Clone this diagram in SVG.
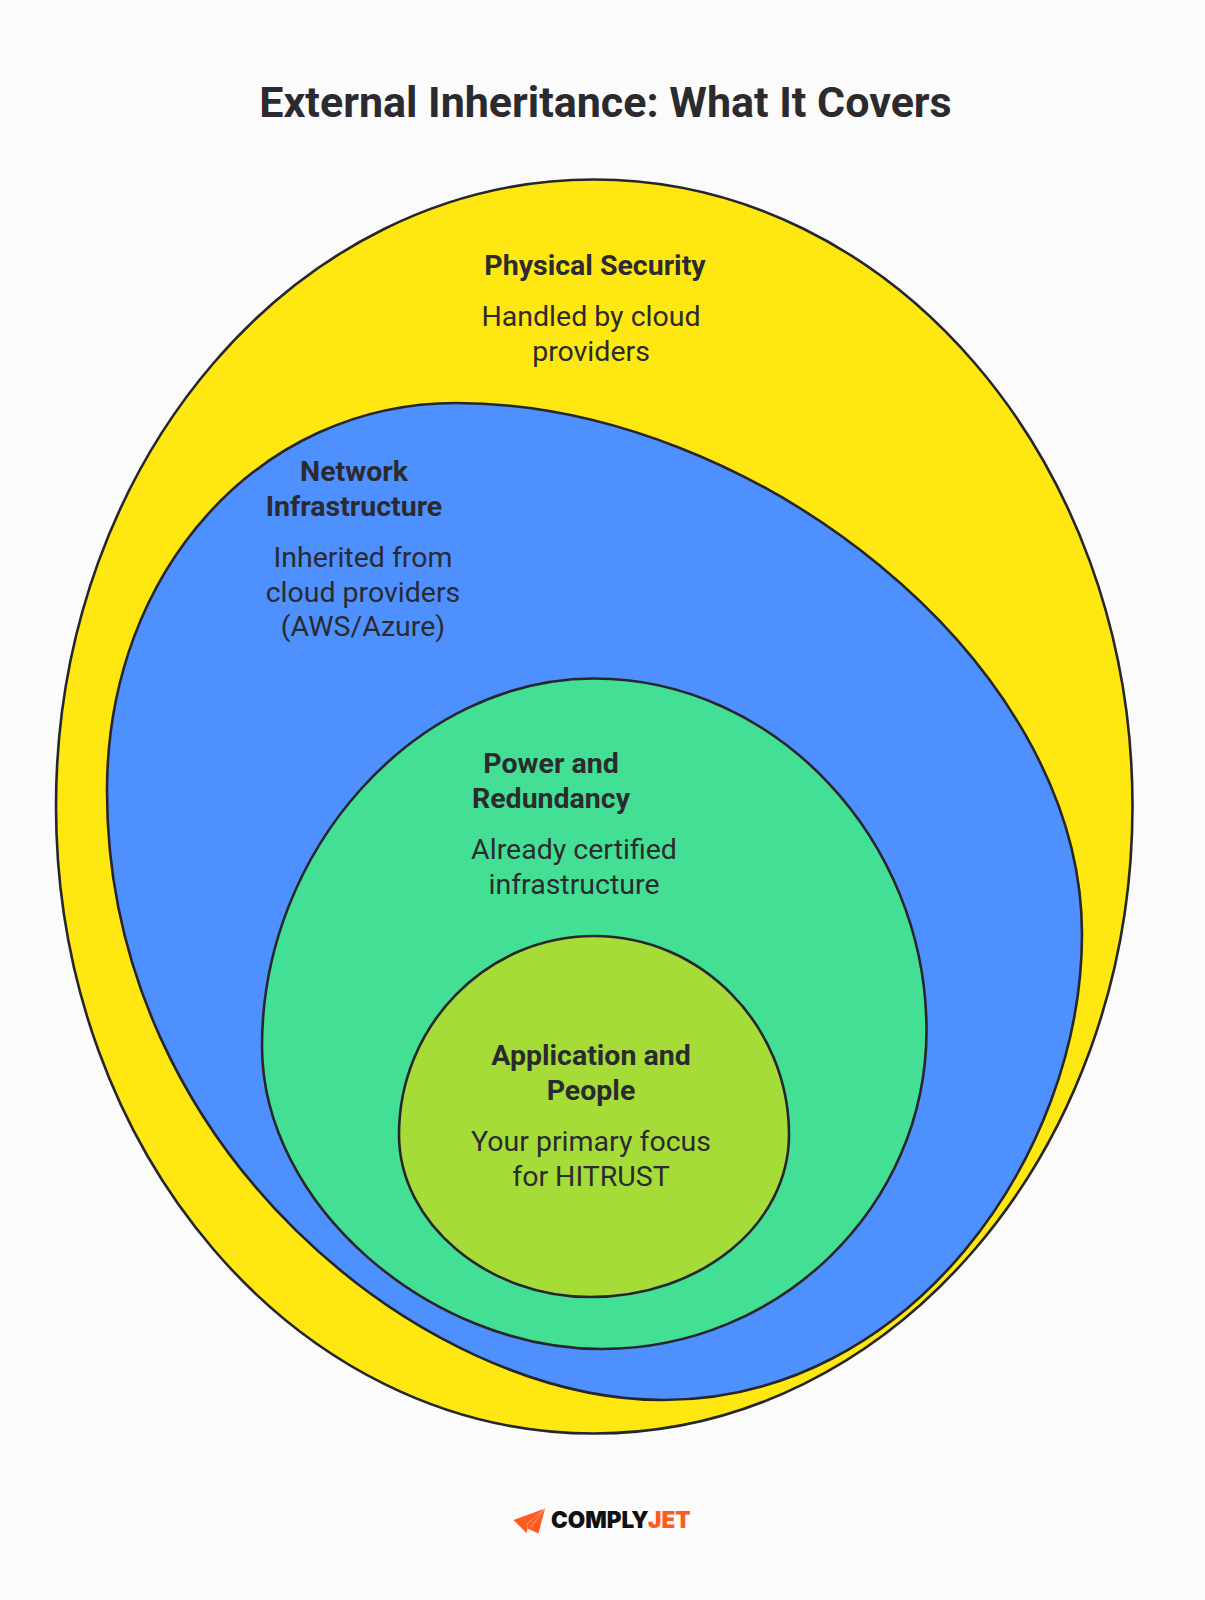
<svg xmlns="http://www.w3.org/2000/svg" width="1205" height="1600" viewBox="0 0 1205 1600">
<style>
.s{stroke:#26262c;stroke-width:2.6}
text{font-family:Roboto,"Liberation Sans",sans-serif;fill:#2b2b2f;font-size:28.500px;text-anchor:middle}
.b{font-weight:700}
.t{font-size:43px;font-weight:700}
.l{font-family:Inter,"Liberation Sans",sans-serif;font-size:22.500px;font-weight:900;fill:#111;text-anchor:start}
</style>
<rect width="1205" height="1600" fill="#fbfbfb"/>
<text class="t" x="605.500" y="117">External Inheritance: What It Covers</text>
<g id="physical-security">
<path class="s" fill="#ffe811" d="M594 179.500C891 179.500 1132.500 460 1132.500 806C1132.500 1152 891 1433.500 594 1433.500C297 1433.500 56 1152 56 806C56 460 297 179.500 594 179.500Z"/>
<text class="b" x="595" y="275">Physical Security</text>
<text x="591" y="326">Handled by cloud</text>
<text x="591" y="361">providers</text>
</g>
<g id="network-infrastructure">
<path class="s" fill="#4d90fe" d="M456 403C752 403 1082 660 1082 934C1082 1155 910 1400 663 1400C425 1400 107 1150 107 791C107 570 260 403 456 403Z"/>
<text class="b" x="354" y="481">Network</text>
<text class="b" x="354" y="515.500">Infrastructure</text>
<text x="363" y="567">Inherited from</text>
<text x="363" y="601.500">cloud providers</text>
<text x="363" y="635.500">(AWS/Azure)</text>
</g>
<g id="power-redundancy">
<path class="s" fill="#43df94" d="M594 678.500C776 678.500 926.500 840 926.500 1030.500C926.500 1206 780 1349 602 1349C430 1349 262 1205 262 1046C262 850 416 678.500 594 678.500Z"/>
<text class="b" x="551" y="773">Power and</text>
<text class="b" x="551" y="807.500">Redundancy</text>
<text x="574" y="859">Already certified</text>
<text x="574" y="893.500">infrastructure</text>
</g>
<g id="application-people">
<path class="s" fill="#a6dc37" d="M594 936C702 936 789 1026 789 1134.600C789 1224 702 1297 590 1297C488 1297 399 1224 399 1134.600C399 1026 486 936 594 936Z"/>
<text class="b" x="591" y="1065">Application and</text>
<text class="b" x="591" y="1099.500">People</text>
<text x="591" y="1151">Your primary focus</text>
<text x="591" y="1185.500">for HITRUST</text>
</g>
<g id="logo">
<path fill="#ff5a1f" d="M513.500 1520L545 1508.500L538.500 1533.500L527.500 1528.500L526.500 1533Z"/>
<path fill="none" stroke="#ffb899" stroke-width=".7" d="M545 1508.500L527 1524L527.500 1528.500M545 1508.500L531 1527"/>
<text class="l" x="551" y="1528">COMPLY<tspan fill="#ff5a1f">JET</tspan></text>
</g>
</svg>
